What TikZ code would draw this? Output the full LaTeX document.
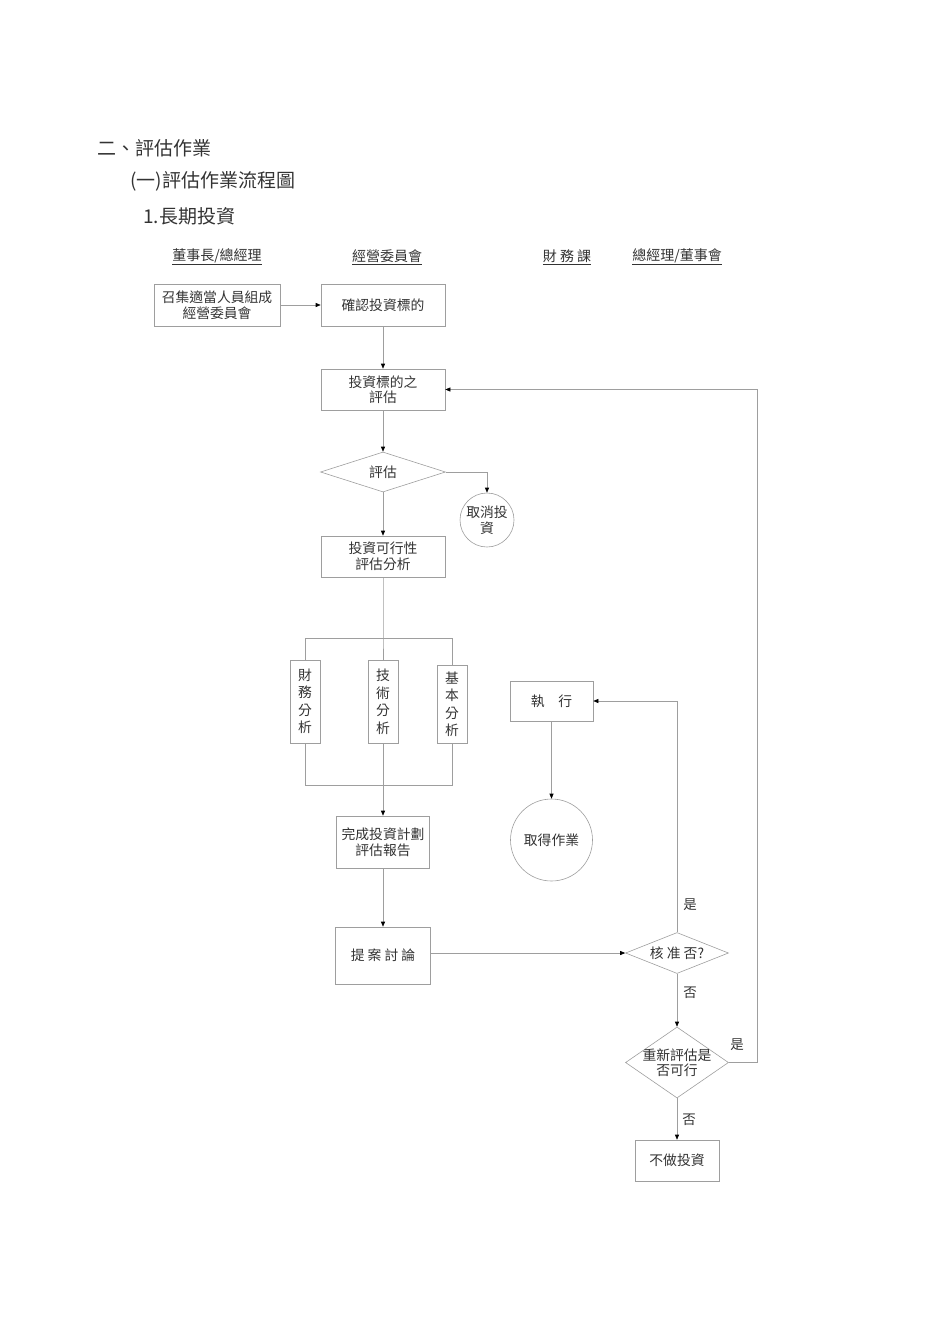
\documentclass[tikz,border=0pt]{standalone}
\usepackage{fontspec}
\setmainfont{Noto Sans CJK TC}
\usetikzlibrary{shapes.geometric,arrows.meta}
\definecolor{ln}{gray}{0.62}
\definecolor{tx}{gray}{0.2}
\tikzset{
  pbox/.style={draw=ln, line width=0.6pt, text=tx, font=\fontsize{13.8}{15.5}\selectfont, align=center, inner sep=0pt},
  pdia/.style={draw=ln, line width=0.6pt, diamond, aspect=2.5, text=tx, font=\fontsize{13.8}{15.5}\selectfont, align=center, inner sep=0pt},
  pcirc/.style={draw=ln, line width=0.6pt, circle, text=tx, font=\fontsize{13.8}{15.5}\selectfont, align=center, inner sep=0pt},
  conn/.style={draw=ln, line width=0.6pt},
  arr/.style={conn, -{Triangle[length=5pt,width=4pt,color=black]}},
  hdr/.style={text=tx, font=\fontsize{14}{16}\selectfont, inner sep=0pt},
  ttl/.style={text=tx, font=\fontsize{19}{21}\selectfont, anchor=west, inner sep=0pt},
  lbl/.style={text=tx, font=\fontsize{13.5}{15}\selectfont, inner sep=0pt}
}
\begin{document}
\begin{tikzpicture}[x=1pt,y=-1pt]
\useasboundingbox (0,0) rectangle (950,1344);
% titles
\node[ttl] (t1) at (97,148) {二、評估作業};
\node[ttl] (t2) at (130,181) {(一)評估作業流程圖};
\node[ttl] (t3) at (143,216) {1.長期投資};
% headers
\node[hdr] (h1) at (217,257) {\underline{董事長/總經理}};
\node[hdr] (h2) at (387,257) {\underline{經營委員會}};
\node[hdr] (h3) at (567,257) {\underline{財 務 課}};
\node[hdr] (h4) at (677,257) {\underline{總經理/董事會}};
% boxes
\node[pbox, minimum width=126pt, minimum height=42pt] (b1) at (217,305) {召集適當人員組成\\經營委員會};
\node[pbox, minimum width=124pt, minimum height=42pt] (b2) at (383,305) {確認投資標的};
\node[pbox, minimum width=124pt, minimum height=41pt] (b3) at (383,389.5) {投資標的之\\評估};
\node[pdia, minimum width=125pt, minimum height=40pt] (d1) at (383,472) {評估};
\node[pcirc, minimum size=54pt] (c1) at (487,520) {取消投\\資};
\node[pbox, minimum width=124pt, minimum height=41pt] (b4) at (383,556.5) {投資可行性\\評估分析};
\node[pbox, minimum width=30pt, minimum height=83pt, font=\fontsize{13.8}{17.5}\selectfont] (f1) at (305,701.5) {財\\務\\分\\析};
\node[pbox, minimum width=30pt, minimum height=83pt, font=\fontsize{13.8}{17.5}\selectfont] (f2) at (383,701.5) {技\\術\\分\\析};
\node[pbox, minimum width=30pt, minimum height=78pt, font=\fontsize{13.8}{17.5}\selectfont] (f3) at (452,704) {基\\本\\分\\析};
\coordinate (sp1) at (383,638);
\coordinate (sp1a) at (305,638);
\coordinate (sp1b) at (452,638);
\coordinate (jn) at (383,785);
\coordinate (jna) at (305,785);
\coordinate (jnb) at (452,785);
\node[pbox, minimum width=93pt, minimum height=52pt] (b5) at (383,842) {完成投資計劃\\評估報告};
\node[pbox, minimum width=95pt, minimum height=57pt] (b6) at (383,955.5) {提 案 討 論};
\node[pdia, minimum width=103pt, minimum height=41pt] (d2) at (677,953) {核 准 否?};
\node[pbox, minimum width=83pt, minimum height=40pt] (b7) at (551.5,701) {執\hspace{1em}行};
\node[pcirc, minimum size=82pt] (c2) at (551.5,840) {取得作業};
\node[pdia, minimum width=103pt, minimum height=71pt, aspect=1.45, inner sep=-3.5pt] (d3) at (677,1062.5) {重新評估是\\否可行};
\node[pbox, minimum width=84pt, minimum height=41pt] (b8) at (677,1160.5) {不做投資};
% connectors
\draw[arr] (b1.east) -- (b2.west);
\draw[arr] (b2.south) -- (b3.north);
\draw[arr] (b3.south) -- (d1.north);
\draw[arr] (d1.east) -| (c1.north);
\draw[arr] (d1.south) -- (b4.north);
\draw[conn] (b4.south) -- (sp1) -- (f2.north);
\draw[conn] (sp1a) -- (sp1b);
\draw[conn] (sp1a) -- (f1.north);
\draw[conn] (sp1b) -- (f3.north);
\draw[conn] (f1.south) -- (jna) -- (jnb) -- (f3.south);
\draw[conn] (f2.south) -- (jn);
\draw[arr] (jn) -- (b5.north);
\draw[arr] (b5.south) -- (b6.north);
\draw[arr] (b6.east |- d2.west) -- (d2.west);
\coordinate (up1) at (677,701);
\draw[arr] (d2.north) -- (up1) -- (b7.east);
\draw[arr] (b7.south) -- (c2.north);
\draw[arr] (d2.south) -- (d3.north);
\coordinate (r1) at (757,1062.5);
\coordinate (r2) at (757,389.5);
\draw[arr] (d3.east) -- (r1) -- (r2) -- (b3.east);
\draw[arr] (d3.south) -- (b8.north);
% labels
\node[lbl] (l1) at (690,905) {是};
\node[lbl] (l2) at (690,993) {否};
\node[lbl] (l3) at (737,1045) {是};
\node[lbl] (l4) at (689,1120) {否};
\end{tikzpicture}
\end{document}
